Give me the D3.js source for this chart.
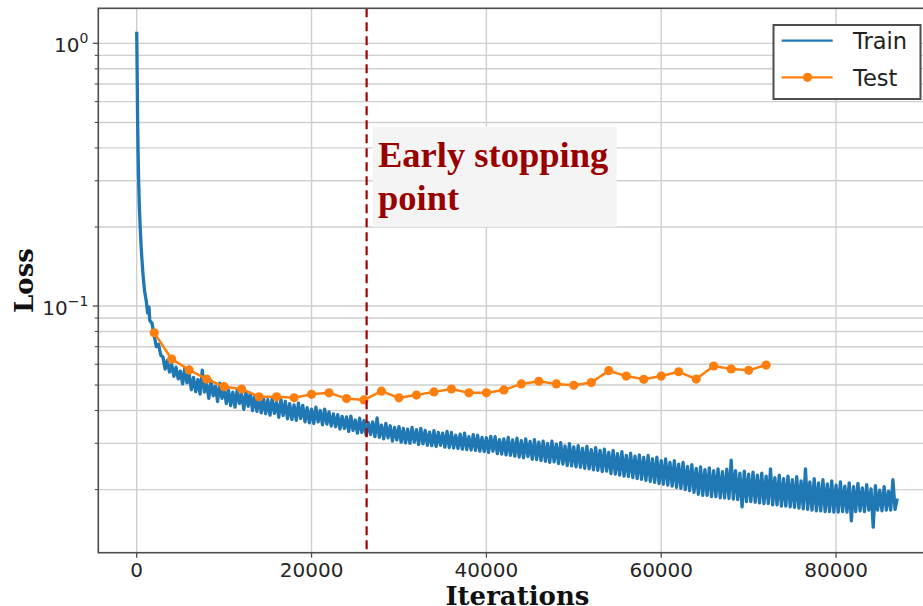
<!DOCTYPE html>
<html>
<head>
<meta charset="utf-8">
<script src="https://cdn.jsdelivr.net/npm/d3@7"></script>
<style>
body { margin:0; background:#fff; }
</style>
</head>
<body>
<script>
var svgWidth = 923;
var svgHeight = 606;

// test loss, one point every 2000 iterations
var testIter = [2000,4000,6000,8000,10000,12000,14000,16000,18000,20000,22000,24000,26000,28000,30000,32000,34000,36000,
				38000,40000,42000,44000,46000,48000,50000,52000,54000,56000,58000,60000,62000,64000,66000,68000,70000,72000];
var testLoss = [0.0791,0.0628,0.0571,0.0527,0.0493,0.0483,0.0451,0.0451,0.0447,0.0461,0.0467,0.0444,0.0439,0.0474,0.0447,0.0458,0.0471,0.0483,
				0.0467,0.0467,0.0479,0.0505,0.0517,0.0505,0.0499,0.0511,0.0567,0.0541,0.0526,0.0541,0.0562,0.0527,0.0591,0.0576,0.0569,0.0596];

// train loss, steep start
var trainEarlyIter = [0,25,50,100,150,200,300,400,500,600,750,900,1100,1250,1400,1500,1750];
var trainEarlyLoss = [1.107,0.95,0.78,0.52,0.40,0.32,0.24,0.20,0.17,0.15,0.128,0.114,0.104,0.094,0.099,0.088,0.086];

// train loss read every 250 iterations from 2000 (one row of 4 = 1000 iterations)
var trainStep = 250;
var trainLoss = [
0.0770,0.0700,0.0715,0.0650, 0.0640,0.0575,0.0620,0.0560, 0.0600,0.0540,0.0585,0.0528, 0.0565,0.0505,0.0578,0.0510,
0.0550,0.0480,0.0535,0.0472, 0.0525,0.0462,0.0570,0.0470, 0.0505,0.0445,0.0520,0.0455, 0.0495,0.0433,0.0508,0.0445,
0.0490,0.0425,0.0478,0.0418, 0.0470,0.0412,0.0481,0.0425, 0.0462,0.0404,0.0472,0.0415, 0.0466,0.0400,0.0455,0.0397,
0.0450,0.0392,0.0446,0.0389, 0.0440,0.0384,0.0445,0.0390, 0.0430,0.0377,0.0440,0.0383, 0.0433,0.0372,0.0425,0.0370,
0.0420,0.0367,0.0427,0.0373, 0.0418,0.0362,0.0410,0.0359, 0.0405,0.0357,0.0412,0.0362, 0.0400,0.0353,0.0405,0.0355,
0.0395,0.0349,0.0388,0.0347, 0.0386,0.0340,0.0380,0.0342, 0.0378,0.0333,0.0381,0.0336, 0.0368,0.0328,0.0374,0.0330,
0.0366,0.0322,0.0360,0.0324, 0.0362,0.0318,0.0375,0.0316, 0.0352,0.0312,0.0357,0.0315, 0.0350,0.0306,0.0345,0.0309,
0.0347,0.0303,0.0342,0.0301, 0.0340,0.0300,0.0345,0.0303, 0.0338,0.0297,0.0342,0.0299, 0.0336,0.0295,0.0331,0.0294,
0.0335,0.0292,0.0330,0.0295, 0.0328,0.0290,0.0333,0.0289, 0.0330,0.0288,0.0322,0.0287, 0.0325,0.0285,0.0328,0.0284,
0.0318,0.0283,0.0324,0.0282, 0.0322,0.0280,0.0316,0.0279, 0.0315,0.0277,0.0319,0.0280, 0.0318,0.0274,0.0310,0.0273,
0.0312,0.0271,0.0316,0.0270, 0.0309,0.0268,0.0314,0.0266, 0.0307,0.0264,0.0312,0.0267, 0.0305,0.0261,0.0310,0.0260,
0.0303,0.0258,0.0306,0.0256, 0.0300,0.0254,0.0306,0.0255, 0.0298,0.0251,0.0302,0.0250, 0.0293,0.0247,0.0299,0.0246,
0.0291,0.0244,0.0294,0.0243, 0.0287,0.0241,0.0292,0.0240, 0.0284,0.0238,0.0289,0.0237, 0.0282,0.0234,0.0285,0.0235,
0.0277,0.0230,0.0282,0.0229, 0.0274,0.0227,0.0279,0.0225, 0.0270,0.0224,0.0275,0.0222, 0.0268,0.0220,0.0271,0.0219,
0.0265,0.0217,0.0270,0.0215, 0.0262,0.0213,0.0266,0.0211, 0.0258,0.0210,0.0262,0.0208, 0.0254,0.0206,0.0258,0.0204,
0.0250,0.0202,0.0254,0.0200, 0.0245,0.0198,0.0249,0.0195, 0.0241,0.0192,0.0244,0.0190, 0.0238,0.0190,0.0242,0.0188,
0.0236,0.0188,0.0240,0.0186, 0.0234,0.0186,0.0239,0.0185, 0.0259,0.0184,0.0236,0.0183, 0.0231,0.0172,0.0235,0.0180,
0.0229,0.0180,0.0233,0.0179, 0.0227,0.0178,0.0231,0.0177, 0.0225,0.0177,0.0240,0.0175, 0.0222,0.0175,0.0227,0.0173,
0.0220,0.0173,0.0225,0.0172, 0.0218,0.0171,0.0224,0.0170, 0.0216,0.0169,0.0240,0.0168, 0.0214,0.0167,0.0220,0.0166,
0.0212,0.0166,0.0218,0.0165, 0.0210,0.0165,0.0216,0.0164, 0.0208,0.0164,0.0214,0.0165, 0.0206,0.0164,0.0212,0.0152,
0.0205,0.0165,0.0211,0.0166, 0.0203,0.0165,0.0209,0.0167, 0.0201,0.0144,0.0207,0.0167, 0.0199,0.0166,0.0205,0.0167,
0.0197,0.0167,0.0218,0.0168, 0.0185];

var earlyStop = 26300;
var xTicks = [0,20000,40000,60000,80000];
var yMajor = [1,0.1];
var yMinor = [0.02,0.03,0.04,0.05,0.06,0.07,0.08,0.09,0.2,0.3,0.4,0.5,0.6,0.7,0.8,0.9];
var seriesNames = ["Train","Test"];
var annotationLines = ["Early stopping","point"];

var train = trainEarlyIter.map(function(d,i){return [d,trainEarlyLoss[i]];})
			.concat(trainLoss.map(function(d,i){return [2000+i*trainStep,d];}));
var test = testIter.map(function(d,i){return [d,testLoss[i]];});

var pLeft = 98.3, pTop = 8.3, pRight = 936.6, pBottom = 552.7;

var main_svg =  d3.select("body")
				.append("svg")
				.attr("width", svgWidth)
				.attr("height", svgHeight)
				.style("font-family","'DejaVu Sans'");

var x = d3.scaleLinear()
		.domain([-4393,91500])
		.range([pLeft,pRight]);

var y = d3.scaleLog()
		.domain([1.36,0.0115])
		.range([pTop,pBottom]);

main_svg.append("clipPath")
		.attr("id","plotclip")
		.append("rect")
		.attr("x",pLeft).attr("y",pTop)
		.attr("width",pRight-pLeft).attr("height",pBottom-pTop);

// grid
var grid = main_svg.append("g").attr("id","Grid");
grid.selectAll("line.h")
	.data(yMajor.concat(yMinor))
	.enter()
	.append("line")
	.attr("x1",pLeft).attr("x2",pRight)
	.attr("y1",function(d){return y(d)}).attr("y2",function(d){return y(d)})
	.attr("stroke","#cfcfcf")
	.attr("stroke-width",1.4);
grid.selectAll("line.v")
	.data(xTicks)
	.enter()
	.append("line")
	.attr("y1",pTop).attr("y2",pBottom)
	.attr("x1",function(d){return x(d)}).attr("x2",function(d){return x(d)})
	.attr("stroke","#cfcfcf")
	.attr("stroke-width",1.4);

// annotation box
main_svg.append("rect")
		.attr("x",372.7).attr("y",126.7)
		.attr("width",244).attr("height",100.3)
		.attr("fill","#f4f4f4");

var plot = main_svg.append("g").attr("clip-path","url(#plotclip)");

var line = d3.line()
			.x(function(d){return x(d[0])})
			.y(function(d){return y(d[1])});

plot.append("path")
	.datum(train)
	.attr("fill","none")
	.attr("stroke","#1f77b4")
	.attr("stroke-width",3.3)
	.attr("stroke-linejoin","round")
	.attr("d",line);

plot.append("path")
	.datum(test)
	.attr("fill","none")
	.attr("stroke","#ff7f0e")
	.attr("stroke-width",2.5)
	.attr("d",line);

plot.selectAll("circle")
	.data(test)
	.enter()
	.append("circle")
	.attr("cx",function(d){return x(d[0])})
	.attr("cy",function(d){return y(d[1])})
	.attr("r",4.6)
	.attr("fill","#ff7f0e");

plot.append("line")
	.attr("x1",x(earlyStop)).attr("x2",x(earlyStop))
	.attr("y1",pTop).attr("y2",pBottom)
	.attr("stroke","#a80000")
	.attr("stroke-width",2.2)
	.attr("stroke-dasharray","9,5");

main_svg.append("text")
		.attr("font-family","'Liberation Serif'")
		.attr("font-weight","bold")
		.attr("font-size",36.5)
		.attr("fill","#990000")
		.selectAll("tspan")
		.data(annotationLines)
		.enter()
		.append("tspan")
		.attr("x",378)
		.attr("y",function(d,i){return 167+i*43})
		.text(function(d){return d});

// frame
main_svg.append("rect")
		.attr("x",pLeft).attr("y",pTop)
		.attr("width",pRight-pLeft).attr("height",pBottom-pTop)
		.attr("fill","none")
		.attr("stroke","#4d4d4d")
		.attr("stroke-width",1.6);

// x ticks
var xt = main_svg.append("g").selectAll("g")
			.data(xTicks)
			.enter()
			.append("g")
			.attr("transform",function(d){return "translate("+x(d)+","+pBottom+")"});
xt.append("line").attr("y2",5).attr("stroke","#4d4d4d").attr("stroke-width",1.3);
xt.append("text")
	.attr("y",24.5)
	.attr("text-anchor","middle")
	.attr("font-size",20)
	.attr("fill","#262626")
	.text(function(d){return d});

// y ticks
main_svg.append("g").selectAll("line")
		.data(yMinor)
		.enter()
		.append("line")
		.attr("x1",pLeft-3.5).attr("x2",pLeft)
		.attr("y1",function(d){return y(d)}).attr("y2",function(d){return y(d)})
		.attr("stroke","#4d4d4d").attr("stroke-width",1.1);
var yt = main_svg.append("g").selectAll("g")
			.data(yMajor)
			.enter()
			.append("g")
			.attr("transform",function(d){return "translate("+pLeft+","+y(d)+")"});
yt.append("line").attr("x2",-5.5).attr("stroke","#4d4d4d").attr("stroke-width",1.3);
var ytext = yt.append("text")
				.attr("x",-10)
				.attr("y",9)
				.attr("text-anchor","end")
				.attr("font-size",20)
				.attr("fill","#262626");
ytext.append("tspan").text("10");
ytext.append("tspan")
	.attr("dy",-9)
	.attr("font-size",14)
	.text(function(d){return d===1 ? "0" : "\u22121"});

// axis titles
main_svg.append("text")
		.attr("x",(pLeft+pRight)/2).attr("y",605)
		.attr("text-anchor","middle")
		.attr("font-family","'DejaVu Serif'")
		.attr("font-weight","bold")
		.attr("font-size",26)
		.attr("fill","#111")
		.text("Iterations");
main_svg.append("text")
		.attr("transform","translate(33,"+((pTop+pBottom)/2)+") rotate(-90)")
		.attr("text-anchor","middle")
		.attr("font-family","'DejaVu Serif'")
		.attr("font-weight","bold")
		.attr("font-size",26)
		.attr("fill","#111")
		.text("Loss");

// legend
var lg = main_svg.append("g").attr("id","Legend");
lg.append("rect")
	.attr("x",773.5).attr("y",25)
	.attr("width",147).attr("height",74)
	.attr("fill","#fff")
	.attr("stroke","#4d4d4d")
	.attr("stroke-width",2);
var items = lg.selectAll("g")
			.data(seriesNames)
			.enter()
			.append("g")
			.attr("transform",function(d,i){return "translate(0,"+(40.7+i*36.6)+")"});
items.append("line")
	.attr("x1",781.7).attr("x2",832.7)
	.attr("stroke",function(d,i){return i===0 ? "#1f77b4" : "#ff7f0e"})
	.attr("stroke-width",2.2);
items.filter(function(d,i){return i===1})
	.append("circle")
	.attr("cx",807.5).attr("r",4.6)
	.attr("fill","#ff7f0e");
items.append("text")
	.attr("x",853)
	.attr("y",8.5)
	.attr("font-size",22.5)
	.attr("fill","#222")
	.text(function(d){return d});
</script>
</body>
</html>
